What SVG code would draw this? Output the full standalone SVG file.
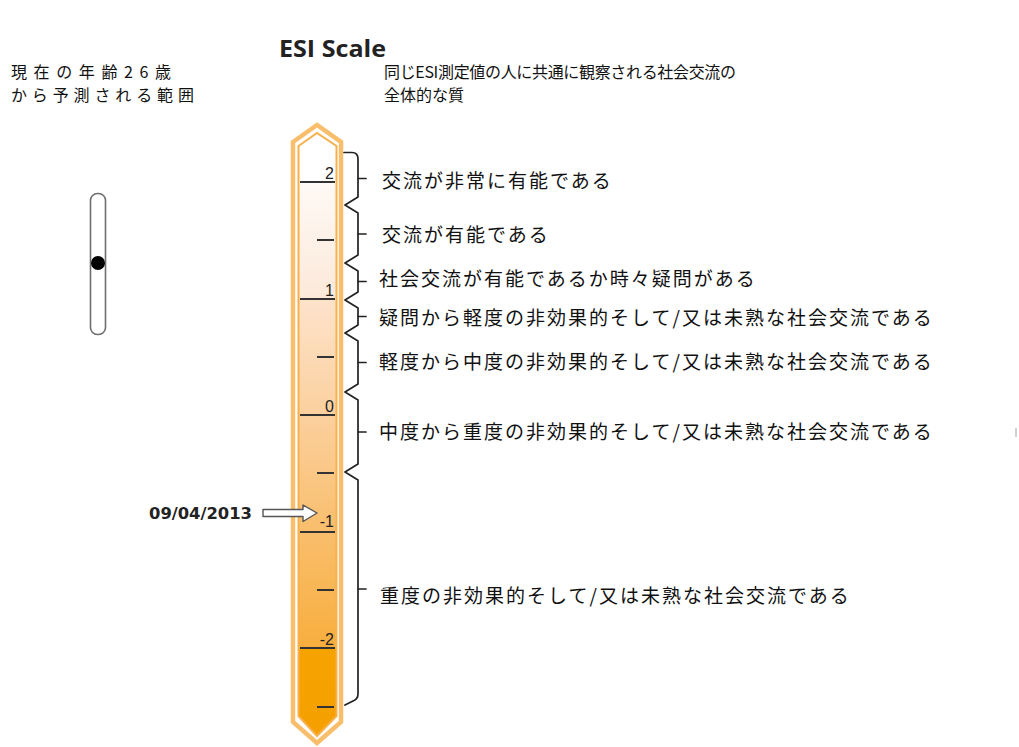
<svg xmlns="http://www.w3.org/2000/svg" width="1019" height="747" viewBox="0 0 1019 747">
<defs>
<linearGradient id="therm" gradientUnits="userSpaceOnUse" x1="0" y1="133" x2="0" y2="737">
<stop offset="0" stop-color="#FFFFFF"/>
<stop offset="0.081" stop-color="#FFFFFF"/>
<stop offset="0.086" stop-color="#FEF9F5"/>
<stop offset="0.2715" stop-color="#FCE9DA"/>
<stop offset="0.275" stop-color="#FDE3CB"/>
<stop offset="0.467" stop-color="#FBD09E"/>
<stop offset="0.66" stop-color="#F9BE6C"/>
<stop offset="0.851" stop-color="#F8AE3E"/>
<stop offset="0.854" stop-color="#F6A300"/>
<stop offset="1" stop-color="#F5A000"/>
</linearGradient>
</defs>
<style>
.jp{font-family:"Noto Sans CJK JP","Noto Sans CJK SC",sans-serif;fill:#111;}
.lbl{font-size:19px;letter-spacing:2px;}
.top{font-size:16px;}
.num{font-family:"Liberation Sans",Arial,sans-serif;font-size:16px;fill:#222;text-anchor:end;}
.tick{stroke:#333;stroke-width:2;}
.brace{fill:none;stroke:#222;stroke-width:1.7;stroke-linejoin:round;stroke-linecap:round;}
</style>
<rect width="1019" height="747" fill="#fff"/>

<g id="title">
<text x="279" y="57" font-family="'Open Sans','DejaVu Sans',sans-serif" font-weight="bold" font-size="23" fill="#222" textLength="107" lengthAdjust="spacingAndGlyphs">ESI Scale</text>
</g>

<g id="age-text">
<text class="jp top" x="11" y="78" textLength="160" lengthAdjust="spacing">現在の年齢26歳</text>
<text class="jp top" x="11" y="101" textLength="183" lengthAdjust="spacing">から予測される範囲</text>
</g>

<g id="quality-text">
<text class="jp top" x="384" y="78" textLength="352" lengthAdjust="spacing">同じESI測定値の人に共通に観察される社会交流の</text>
<text class="jp top" x="384" y="101">全体的な質</text>
</g>

<g id="range-indicator">
<rect x="90.5" y="193.5" width="15" height="141" rx="7" fill="#fff" stroke="#6e6e6e" stroke-width="1.6"/>
<circle cx="98" cy="263" r="7" fill="#000"/>
</g>

<g id="thermometer">
<polygon points="293,142 317,125 341,142 341,722 317,743 293,722" fill="#fff" stroke="#F9BE6B" stroke-width="4.5" stroke-linejoin="miter"/>
<polygon points="298.5,146 317,133 336.5,146 336.5,716 317,736 298.5,716" fill="url(#therm)" stroke="#F8B04C" stroke-width="2"/>
<line class="tick" x1="300" y1="182" x2="335" y2="182"/>
<line class="tick" x1="317" y1="240" x2="334" y2="240"/>
<line class="tick" x1="300" y1="299" x2="335" y2="299" stroke-width="3"/>
<line class="tick" x1="317" y1="357" x2="334" y2="357"/>
<line class="tick" x1="300" y1="415" x2="335" y2="415"/>
<line class="tick" x1="317" y1="473" x2="334" y2="473"/>
<line class="tick" x1="300" y1="532" x2="335" y2="532"/>
<line class="tick" x1="317" y1="590" x2="334" y2="590"/>
<line class="tick" x1="300" y1="648" x2="335" y2="648"/>
<line class="tick" x1="317" y1="707" x2="334" y2="707"/>
<text class="num" x="334" y="179">2</text>
<text class="num" x="334" y="296">1</text>
<text class="num" x="334" y="412">0</text>
<text class="num" x="334" y="527">-1</text>
<text class="num" x="334" y="645">-2</text>
</g>

<g id="date-marker">
<text x="149" y="519" font-family="'DejaVu Sans',Verdana,sans-serif" font-weight="bold" font-size="15" fill="#222" textLength="103" lengthAdjust="spacingAndGlyphs">09/04/2013</text>
<polygon points="263,509.5 303,509.5 303,505 317,513 303,521.5 303,516.5 263,516.5" fill="#fff" stroke="#555" stroke-width="1.4" stroke-linejoin="round"/>
</g>

<g id="connectors">
<path class="brace" d="M 344 152.5 H 352 Q 358 152.5 358 159 V 197 L 345 205 L 358 213 V 255 L 345 263 L 358 271 V 292 L 345 300 L 358 308 V 325 L 345 333 L 358 341 V 384 L 345 392 L 358 400 V 464 L 345 472 L 358 480 V 694 Q 358 699 353 701 L 345 705"/>
<path class="brace" d="M 358 178.5 H 366 M 358 234 H 366 M 358 281.5 H 366 M 358 316.5 H 366 M 358 362.5 H 366 M 358 432 H 366 M 358 589 H 366"/>
</g>

<g id="labels">
<text class="jp lbl" x="382" y="188">交流が非常に有能である</text>
<text class="jp lbl" x="382" y="242">交流が有能である</text>
<text class="jp lbl" x="379" y="286">社会交流が有能であるか時々疑問がある</text>
<text class="jp lbl" x="379" y="325">疑問から軽度の非効果的そして/又は未熟な社会交流である</text>
<text class="jp lbl" x="379" y="369">軽度から中度の非効果的そして/又は未熟な社会交流である</text>
<text class="jp lbl" x="379" y="439">中度から重度の非効果的そして/又は未熟な社会交流である</text>
<text class="jp lbl" x="380" y="603">重度の非効果的そして/又は未熟な社会交流である</text>
</g>

<rect id="mark" x="1015" y="428" width="2" height="9" fill="#d0d0d0"/>
</svg>
